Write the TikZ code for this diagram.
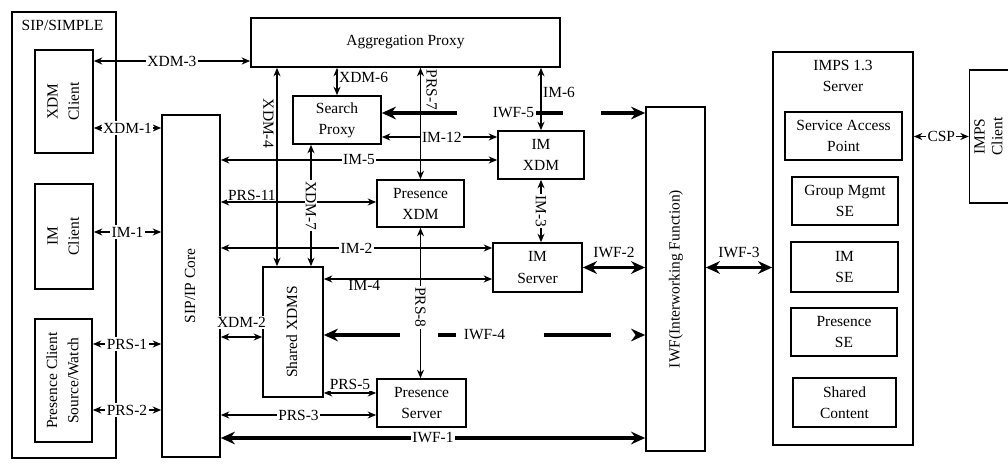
\documentclass[tikz,border=0pt]{standalone}
\usepackage{fontspec}
\setmainfont{Liberation Serif}
\usetikzlibrary{arrows.meta}

\newcommand{\rotup}[1]{\rotatebox{90}{\begin{tabular}{@{}c@{}}#1\end{tabular}}}

\begin{document}
\begin{tikzpicture}[
  x=0.025cm, y=-0.025cm,
  every node/.style={font=\fontsize{11}{15}\selectfont},
  box/.style={draw, line width=1.2pt, align=center, inner sep=2pt},
  link/.style={arrows={Stealth[length=6pt,width=5pt]-Stealth[length=6pt,width=5pt]}, line width=1pt},
  iwflink/.style={arrows={Stealth[length=10pt,width=9pt]-Stealth[length=10pt,width=9pt]}, line width=2.6pt},
  lab/.style={fill=white, inner sep=1pt},
  labr/.style={lab, rotate=-90}
]
\useasboundingbox (0,0) rectangle (1008,468);

% SIP/SIMPLE side
\node[box, minimum width=2.6cm, minimum height=11.15cm, label={[anchor=north west, xshift=4pt, yshift=-3pt]north west:SIP/SIMPLE}] (simple) at (64,235) {};
\node[box, minimum width=1.45cm, minimum height=2.575cm] (xdmcl) at (64,101.5) {\rotup{XDM\\Client}};
\node[box, minimum width=1.45cm, minimum height=2.625cm] (imcl) at (64,236.5) {\rotup{IM\\Client}};
\node[box, minimum width=1.425cm, minimum height=3.075cm] (prescl) at (63.5,380.5) {\rotup{Presence Client\\Source/Watch}};
\node[box, minimum width=1.45cm, minimum height=8.55cm] (sipcore) at (191,286) {\rotup{SIP/IP Core}};

% enablers
\node[box, minimum width=7.725cm, minimum height=1.225cm] (aggproxy) at (405.5,42.5) {Aggregation Proxy};
\node[box, minimum width=2.2cm, minimum height=1.2cm] (search) at (337,120) {Search\\Proxy};
\node[box, minimum width=2.175cm, minimum height=1.175cm] (presxdm) at (420.5,203.5) {Presence\\XDM};
\node[box, minimum width=2.15cm, minimum height=1.2cm] (imxdm) at (541,155) {IM\\XDM};
\node[box, minimum width=2.225cm, minimum height=1.225cm] (imserver) at (537.5,267.5) {IM\\Server};
\node[box, minimum width=1.5cm, minimum height=3.25cm] (sharedxdms) at (293,332) {\rotup{Shared XDMS}};
\node[box, minimum width=2.225cm, minimum height=1.2cm] (presserver) at (421.5,403) {Presence\\Server};
\node[box, minimum width=1.475cm, minimum height=8.6cm] (iwf) at (675.5,279) {\rotup{IWF(Interworking Function)}};

% IMPS side
\node[box, minimum width=3.5cm, minimum height=9.825cm, label={[anchor=north, align=center, yshift=-3pt]north:IMPS 1.3\\Server}] (imps) at (843,248.5) {};
\node[box, minimum width=2.925cm, minimum height=1.2cm] (sap) at (843.5,136) {Service Access\\Point};
\node[box, minimum width=2.65cm, minimum height=1.2cm] (groupse) at (845,201) {Group Mgmt\\SE};
\node[box, minimum width=2.675cm, minimum height=1.25cm] (imse) at (844.5,267) {IM\\SE};
\node[box, minimum width=2.65cm, minimum height=1.2cm] (presse) at (844,332) {Presence\\SE};
\node[box, minimum width=2.575cm, minimum height=1.225cm] (sharedcont) at (844.5,402.5) {Shared\\Content};
\node[box, minimum width=1.0cm, minimum height=3.325cm, font=\fontsize{11}{12.5}\selectfont] (impscl) at (990,136.5) {\rotup{IMPS\\Client}};

% rows and columns of the reference points
\coordinate (yxdm3) at (0,61);
\coordinate (yxdm1) at (0,128);
\coordinate (yim1) at (0,232);
\coordinate (yprs1) at (0,344);
\coordinate (yprs2) at (0,410);
\coordinate (yiwf5) at (0,113);
\coordinate (yim12) at (0,137);
\coordinate (yim5) at (0,160);
\coordinate (yprs11) at (0,202);
\coordinate (yim2) at (0,248);
\coordinate (yim4) at (0,279);
\coordinate (yiwf4) at (0,335);
\coordinate (yxdm2) at (0,337);
\coordinate (yprs5) at (0,393);
\coordinate (yprs3) at (0,415);
\coordinate (yiwf1) at (0,438);
\coordinate (xxdm4) at (277,0);
\coordinate (xxdm7) at (311,0);

\draw[link] (xdmcl.east |- yxdm3) -- node[lab] {XDM-3} (aggproxy.west |- yxdm3);
\draw[link] (xdmcl.east |- yxdm1) -- node[lab] {XDM-1} (sipcore.west |- yxdm1);
\draw[link] (imcl.east |- yim1) -- node[lab] {IM-1} (sipcore.west |- yim1);
\draw[link] (prescl.east |- yprs1) -- node[lab] {PRS-1} (sipcore.west |- yprs1);
\draw[link] (prescl.east |- yprs2) -- node[lab] {PRS-2} (sipcore.west |- yprs2);

\draw[link] (sipcore.east |- yim5) -- node[lab] {IM-5} (imxdm.west |- yim5);
\draw[link] (sipcore.east |- yprs11) -- node[lab, above, pos=0.2, inner sep=0.5pt] {PRS-11} (presxdm.west |- yprs11);
\draw[link] (sipcore.east |- yim2) -- node[lab] {IM-2} (imserver.west |- yim2);
\draw[link] (sharedxdms.east |- yim4) -- node[lab, below, pos=0.24, inner sep=0.5pt] {IM-4} (imserver.west |- yim4);
\draw[link] (sipcore.east |- yxdm2) -- node[lab, above=5pt] {XDM-2} (sharedxdms.west |- yxdm2);
\draw[link] (sharedxdms.east |- yprs5) -- node[lab, above=1pt] {PRS-5} (presserver.west |- yprs5);
\draw[link] (sipcore.east |- yprs3) -- node[lab] {PRS-3} (presserver.west |- yprs3);
\draw[link] (search.east |- yim12) -- node[lab, pos=0.52] {IM-12} (imxdm.west |- yim12);

\draw[iwflink] (sipcore.east |- yiwf1) -- node[lab] {IWF-1} (iwf.west |- yiwf1);
\draw[iwflink, dash pattern=on 1.675cm off 1.775cm on 0.85cm off 0.95cm on 2cm] (search.east |- yiwf5) -- node[lab] {IWF-5} (iwf.west |- yiwf5);
\draw[iwflink, dash pattern=on 1.7cm off 0.925cm on 0.45cm off 2.2cm on 1.675cm off 1cm] (sharedxdms.east |- yiwf4) -- node[lab] {IWF-4} (iwf.west |- yiwf4);
\draw[iwflink] (imserver.east) -- node[lab, above=5pt] {IWF-2} (imserver.east -| iwf.west);
\draw[iwflink] (iwf.east |- imserver.east) -- node[lab, above=5pt] {IWF-3} (imps.west |- imserver.east);
\draw[link] (imps.east |- impscl.west) -- node[lab] {CSP} (impscl.west);

\draw[link] (aggproxy.south -| xxdm4) -- node[xshift=-6pt, labr, pos=0.28] {XDM-4} (sharedxdms.north -| xxdm4);
\draw[link] (aggproxy.south -| search.north) -- node[lab, right, pos=0.35] {XDM-6} (search.north);
\draw[link] (search.south -| xxdm7) -- node[labr] {XDM-7} (sharedxdms.north -| xxdm7);
\draw[link] (aggproxy.south -| presxdm.north) -- node[xshift=8pt, labr, pos=0.2, fill=none] {PRS-7} (presxdm.north);
\draw[link] (presxdm.south) -- node[labr, pos=0.53] {PRS-8} (presserver.north -| presxdm.south);
\draw[link] (aggproxy.south -| imxdm.north) -- node[lab, right, pos=0.4] {IM-6} (imxdm.north);
\draw[link] (imxdm.south) -- node[labr] {IM-3} (imserver.north -| imxdm.south);
\end{tikzpicture}
\end{document}
